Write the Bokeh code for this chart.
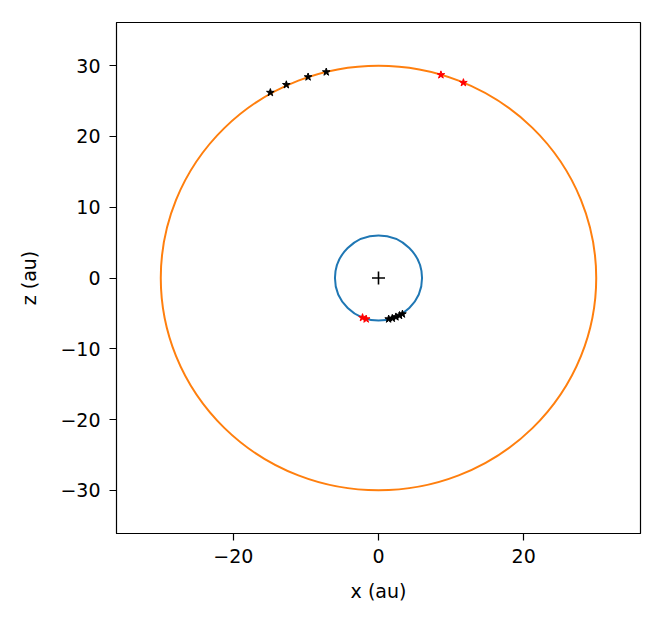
from bokeh.plotting import figure
from bokeh.models import FixedTicker, Range1d
from bokeh.embed import file_html
from bokeh.resources import INLINE

# orbit radii (au)
orbit_radii = [6.0, 30.0]
orbit_colors = ["#1f77b4", "#ff7f0e"]

# black points (outer orbit)
outer_black_x = [-14.9, -12.7, -9.7, -7.2]
outer_black_z = [26.2, 27.3, 28.4, 29.1]
# red points (outer orbit)
outer_red_x = [8.6, 11.7]
outer_red_z = [28.7, 27.6]
# inner orbit points
inner_black_x = [1.4, 1.9, 2.4, 2.9, 3.3]
inner_black_z = [-5.8, -5.7, -5.5, -5.3, -5.1]
inner_red_x = [-2.2, -1.7]
inner_red_z = [-5.6, -5.8]

x_ticks = [-20, 0, 20]
y_ticks = [-30, -20, -10, 0, 10, 20, 30]

FONT = "DejaVu Sans"

p = figure(output_backend="svg", toolbar_location=None,
           frame_width=524, frame_height=511,
           min_border_left=116, min_border_top=22, min_border_right=16, min_border_bottom=70,
           x_range=Range1d(-36.1, 36.1), y_range=Range1d(-36.1, 36.1))
p.background_fill_color = "white"
p.border_fill_color = "white"
p.grid.visible = False
p.outline_line_color = "black"
p.outline_line_width = 1.2

for r, c in zip(orbit_radii, orbit_colors):
    p.ellipse(x=[0], y=[0], width=[2 * r], height=[2 * r], fill_color=None,
              line_color=c, line_width=2)

p.scatter([0], [0], marker="cross", size=13, line_color="black", line_width=1.6)

for xs, zs, col in [(outer_black_x, outer_black_z, "black"), (outer_red_x, outer_red_z, "red"),
                    (inner_black_x, inner_black_z, "black"), (inner_red_x, inner_red_z, "red")]:
    p.scatter(xs, zs, marker="star", size=8, fill_color=col, line_color=col)

p.xaxis.ticker = FixedTicker(ticks=x_ticks)
p.yaxis.ticker = FixedTicker(ticks=y_ticks)
p.xaxis.major_label_overrides = {t: (str(t).replace("-", "\u2212")) for t in x_ticks}
p.yaxis.major_label_overrides = {t: (str(t).replace("-", "\u2212")) for t in y_ticks}
p.xaxis.axis_label = "x (au)"
p.yaxis.axis_label = "z (au)"
for ax in (p.xaxis, p.yaxis):
    ax.minor_tick_line_color = None
    ax.major_tick_out = 7
    ax.major_tick_in = 0
    ax.major_tick_line_color = "black"
    ax.major_tick_line_width = 1.2
    ax.axis_line_color = "black"
    ax.major_label_text_font = FONT
    ax.major_label_text_font_size = "19px"
    ax.major_label_text_color = "black"
    ax.axis_label_text_font = FONT
    ax.axis_label_text_font_size = "19px"
    ax.axis_label_text_font_style = "normal"
    ax.axis_label_text_color = "black"
p.yaxis.major_label_orientation = "horizontal"
p.xaxis.major_label_standoff = 8
p.yaxis.major_label_standoff = 9
p.yaxis.axis_label_standoff = 17
p.xaxis.axis_label_standoff = 14

open("out.html", "w").write(file_html(p, INLINE))
